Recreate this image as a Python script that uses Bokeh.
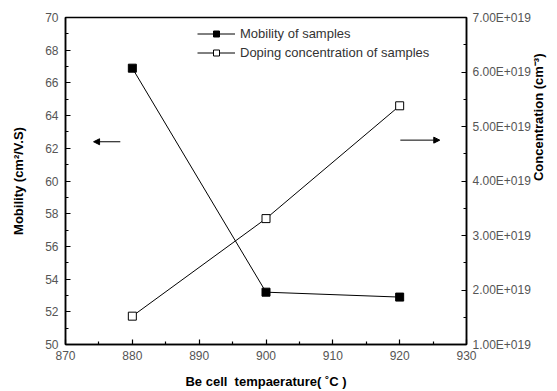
import math
from bokeh.plotting import figure
from bokeh.models import (Range1d, LinearAxis, FixedTicker, CustomJSTickFormatter,
                          Legend, LegendItem, Arrow, NormalHead, Title)
from bokeh.embed import file_html
from bokeh.resources import INLINE

temps = [880, 900, 920]
mobility = [66.9, 53.2, 52.9]
concentration = [1.52e19, 3.31e19, 5.38e19]
x_ticks = [870, 880, 890, 900, 910, 920, 930]
y_ticks = [50, 52, 54, 56, 58, 60, 62, 64, 66, 68, 70]
c_ticks = [1e19, 2e19, 3e19, 4e19, 5e19, 6e19, 7e19]

FONT = "Liberation Sans"
TICKC = "#555555"

p = figure(width=557, height=391, output_backend="svg", toolbar_location=None,
           x_range=Range1d(870, 930), y_range=Range1d(50, 70),
           min_border_left=65, min_border_right=91, min_border_top=17, min_border_bottom=46)
p.grid.visible = False
p.outline_line_color = "black"
p.outline_line_width = 1.5
p.background_fill_color = "white"
p.border_fill_color = "white"
p.extra_y_ranges = {"conc": Range1d(1e19, 7e19)}

def style(ax):
    ax.axis_line_width = 1.5
    ax.major_tick_in = 5
    ax.major_tick_out = 0
    ax.minor_tick_in = 3
    ax.minor_tick_out = 0
    ax.major_tick_line_width = 1.2
    ax.minor_tick_line_width = 1.2
    ax.major_label_text_font = FONT
    ax.major_label_text_font_size = "12px"
    ax.major_label_text_color = TICKC
    ax.axis_label_text_font = FONT
    ax.axis_label_text_font_size = "13px"
    ax.axis_label_text_font_style = "bold"
    ax.axis_label_text_color = "black"

xa = p.xaxis[0]
xa.ticker = FixedTicker(ticks=x_ticks, minor_ticks=[875, 885, 895, 905, 915, 925])
xa.axis_label = "Be cell\u00a0\u00a0tempaerature(\u00a0\u02daC\u00a0)"
style(xa)
xa.major_label_standoff = 6
xa.axis_label_standoff = 11

ya = p.yaxis[0]
ya.ticker = FixedTicker(ticks=y_ticks, minor_ticks=list(range(51, 70, 2)))
ya.axis_label = "Mobility (cm\u00b2/V.S)"
style(ya)
ya.major_label_standoff = 7
ya.axis_label_standoff = 16

ra = LinearAxis(y_range_name="conc")
ra.ticker = FixedTicker(ticks=c_ticks, minor_ticks=[1.5e19, 2.5e19, 3.5e19, 4.5e19, 5.5e19, 6.5e19])
ra.formatter = CustomJSTickFormatter(code="""
const e = Math.floor(Math.log10(tick) + 1e-9);
const m = tick / Math.pow(10, e);
return m.toFixed(2) + "E+" + String(e).padStart(3, "0");
""")
style(ra)
ra.major_label_standoff = 6
p.add_layout(ra, "right")

right_title = "Concentration (cm\u207b\u00b3)"
try:
    ra.axis_label = right_title
    ra.axis_label_orientation = math.pi / 2
    ra.axis_label_standoff = 5
except Exception:
    ra.axis_label = None
    t = Title(text=right_title, align="center", text_font=FONT, text_font_size="13px",
              text_font_style="bold", text_color="black")
    p.add_layout(t, "right")

l1 = p.line(temps, mobility, line_color="black", line_width=1)
m1 = p.scatter(temps, mobility, marker="square", size=8, fill_color="black", line_color="black")
l2 = p.line(temps, concentration, y_range_name="conc", line_color="black", line_width=1)
m2 = p.scatter(temps, concentration, y_range_name="conc", marker="square", size=8,
               fill_color="white", line_color="black", line_width=1)

p.add_layout(Arrow(end=NormalHead(size=6, fill_color="black", line_color="black"),
                   x_start=878.2, y_start=62.4, x_end=874.2, y_end=62.4,
                   line_color="black", line_width=1))
p.add_layout(Arrow(end=NormalHead(size=6, fill_color="black", line_color="black"),
                   x_start=920.1, y_start=62.5, x_end=926.0, y_end=62.5,
                   line_color="black", line_width=1))

legend = Legend(items=[LegendItem(label="Mobility of samples", renderers=[l1, m1]),
                       LegendItem(label="Doping concentration of samples", renderers=[l2, m2])],
                location=(132, 284), border_line_color=None, background_fill_alpha=0,
                padding=0, margin=0, spacing=4, glyph_width=38, glyph_height=15,
                label_height=15, label_standoff=5,
                label_text_font=FONT, label_text_font_size="13px", label_text_color="#333333")
p.add_layout(legend, "center")

open("out.html", "w").write(file_html(p, INLINE))
